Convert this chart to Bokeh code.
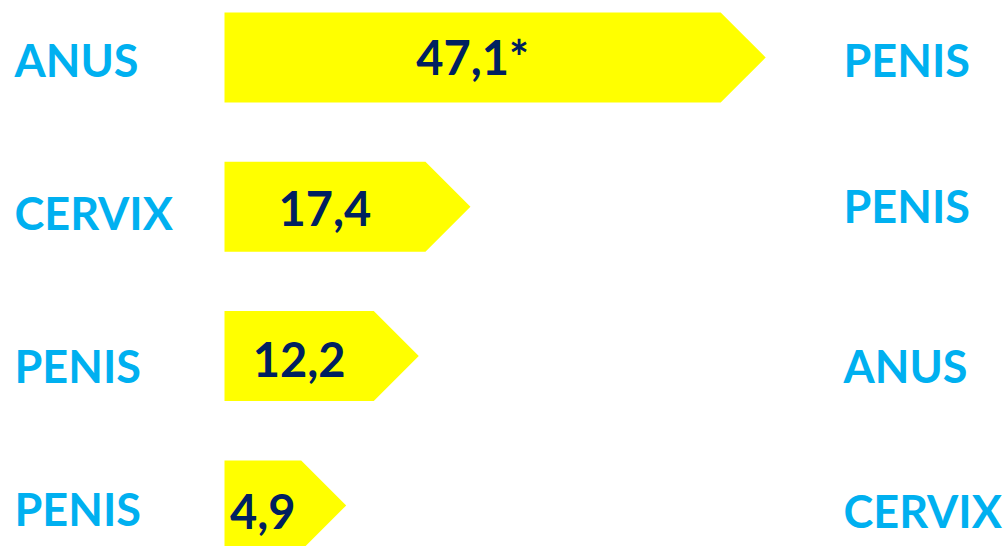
from bokeh.plotting import figure
from bokeh.models import Range1d
from bokeh.embed import file_html
from bokeh.resources import INLINE
from bokeh.core.properties import value as pv

# ---- data ----
values = [47.1, 17.4, 12.2, 4.9]
value_labels = ["47,1*", "17,4", "12,2", "4,9"]
left_labels = ["ANUS", "CERVIX", "PENIS", "PENIS"]
right_labels = ["PENIS", "PENIS", "ANUS", "CERVIX"]

# ---- layout constants (pixels) ----
W, H = 1005, 546
PX_PER_UNIT = 9.94
ZERO_PX = 252
def px_to_x(px):
    return (px - ZERO_PX) / PX_PER_UNIT

BAR_BASE = px_to_x(224)
TIP = 45 / PX_PER_UNIT
HALF_H = 45
BAR_ROW0, BAR_STEP = 57, 149.3
TEXT_ROW0, TEXT_STEP = 58, 151.5
LEFT_ROWS = [61, 214, 367, 510]
RIGHT_ROWS = [61, 207, 367, 512]
BASELINE_SHIFT = -2
FONT = pv("Lato")

p = figure(width=W, height=H,
           x_range=Range1d(px_to_x(0), px_to_x(W)),
           y_range=Range1d(H, 0),
           output_backend="svg", toolbar_location=None, min_border=0)
p.axis.visible = False
p.grid.visible = False
p.outline_line_color = None
p.background_fill_color = "white"
p.border_fill_color = "white"

xs, ys, tx, ty = [], [], [], []
for i, v in enumerate(values):
    yc = BAR_ROW0 + BAR_STEP * i
    xs.append([BAR_BASE, v, v + TIP, v, BAR_BASE])
    ys.append([yc - HALF_H, yc - HALF_H, yc, yc + HALF_H, yc + HALF_H])
    tx.append((BAR_BASE + v) / 2)
    ty.append(TEXT_ROW0 + TEXT_STEP * i + BASELINE_SHIFT)

p.patches(xs=xs, ys=ys, fill_color="#FFFF00", line_color=None)

p.text(x=tx, y=ty, text=value_labels, text_font=FONT, text_font_style="bold",
       text_font_size="47px", text_color="#002060", text_align="center", text_baseline="middle")

p.text(x=[px_to_x(14)] * 4, y=[r + BASELINE_SHIFT for r in LEFT_ROWS], text=left_labels,
       text_font=FONT, text_font_style="bold", text_font_size="45px", text_color="#00B0F0",
       text_align="left", text_baseline="middle")
p.text(x=[px_to_x(843)] * 4, y=[r + BASELINE_SHIFT for r in RIGHT_ROWS], text=right_labels,
       text_font=FONT, text_font_style="bold", text_font_size="45px", text_color="#00B0F0",
       text_align="left", text_baseline="middle")

open("out.html", "w").write(file_html(p, INLINE))
